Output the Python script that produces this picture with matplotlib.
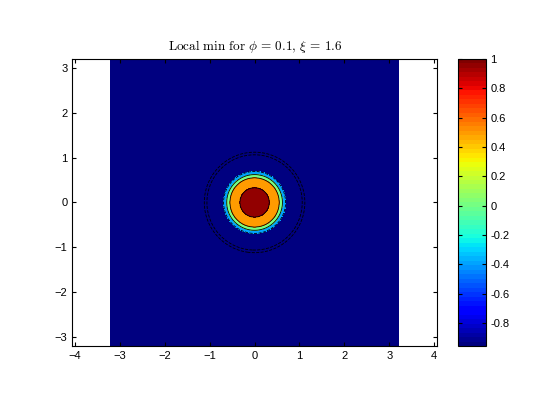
import numpy as np
import matplotlib
matplotlib.use('Agg')
import matplotlib.pyplot as plt
from matplotlib import cm, colors

plt.rcParams['mathtext.fontset'] = 'cm'
plt.rcParams['font.family'] = ['Liberation Sans', 'DejaVu Sans']

# radial profile of the field
radius = [0.0, 0.33, 0.55, 0.62, 0.69, 0.80, 1.04, 1.09, 1.14, 4.6]
value = [1.0, 0.95, 0.5, 0.0, -0.4, -0.94, -0.945, -0.957, -0.945, -0.94]
levels = [-0.957, -0.95, -0.4, 0.0, 0.5, 0.95, 1.0]
vmin, vmax = -0.957, 1.0
cbar_ticks = [-0.8, -0.6, -0.4, -0.2, 0, 0.2, 0.4, 0.6, 0.8, 1]

x = np.linspace(-3.2, 3.2, 641)
X, Y = np.meshgrid(x, x)
Z = np.interp(np.hypot(X, Y), radius, value)

jet = matplotlib.colormaps['jet'].resampled(64)
norm = colors.Normalize(vmin=vmin, vmax=vmax)
fill_colors = [jet(norm(v)) for v in levels[:-1]]

fig = plt.figure(figsize=(5.6, 4.2), dpi=100)
ax = fig.add_axes([0.129, 0.176, 0.652, 0.684])
ax.contourf(X, Y, Z, levels=levels, colors=fill_colors)
ax.contour(X, Y, Z, levels=levels[1:-1], colors='k', linewidths=0.6)

ax.set_xlim(-4.06, 4.07)
ax.set_ylim(-3.2, 3.2)
ax.set_xticks(range(-4, 5))
ax.set_yticks(range(-3, 4))
ax.tick_params(direction='in', top=True, right=True, labelsize=8, length=3)
ax.set_title(r'$\mathrm{Local\ min\ for}\ \phi\,=\,0.1,\,\xi\,=\,1.6$', fontsize=9.5)

cax = fig.add_axes([0.818, 0.176, 0.049, 0.684])
sm = cm.ScalarMappable(norm=norm, cmap=jet)
cb = fig.colorbar(sm, cax=cax, ticks=cbar_ticks)
cb.ax.set_yticklabels([f'{t:g}' for t in cbar_ticks])
cb.ax.tick_params(direction='in', labelsize=8, length=3, left=True, right=True)
cb.outline.set_linewidth(0.8)

fig.savefig('out.png', dpi=100)
